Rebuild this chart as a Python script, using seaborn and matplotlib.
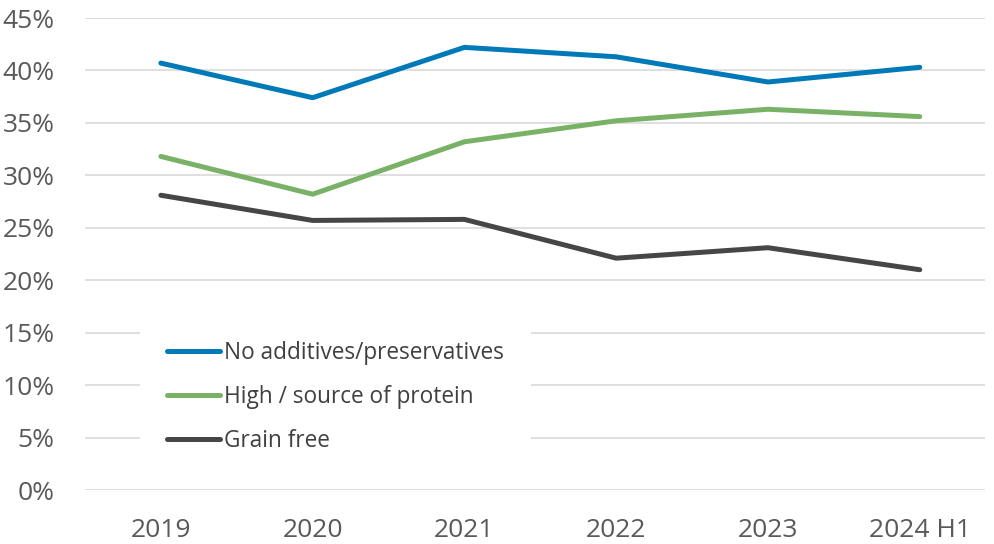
import matplotlib
matplotlib.use("Agg")
import matplotlib.pyplot as plt
import seaborn as sns
import pandas as pd
from matplotlib.ticker import PercentFormatter

years = ["2019", "2020", "2021", "2022", "2023", "2024 H1"]
no_additives = [40.7, 37.4, 42.2, 41.3, 38.9, 40.3]
protein = [31.8, 28.2, 33.2, 35.2, 36.3, 35.6]
grain_free = [28.1, 25.7, 25.8, 22.1, 23.1, 21.0]
series_names = ["No additives/preservatives", "High / source of protein", "Grain free"]
colors = ["#0079B8", "#79B266", "#464646"]

rows = []
for name, vals in zip(series_names, [no_additives, protein, grain_free]):
    for i, (y, v) in enumerate(zip(years, vals)):
        rows.append({"idx": i, "year": y, "value": v, "series": name})
df = pd.DataFrame(rows)

sns.set_theme(style="white")
plt.rcParams["font.family"] = ["Open Sans", "DejaVu Sans"]

fig = plt.figure(figsize=(9.95, 5.44), dpi=100)
ax = fig.add_axes([85/995, 54/544, 900/995, 472/544])

sns.lineplot(data=df, x="idx", y="value", hue="series", palette=colors,
             hue_order=series_names, linewidth=3.6, ax=ax,
             solid_capstyle="round", legend=True)

ax.set_xlim(-0.5, 5.43)
ax.set_ylim(0, 45)
ax.set_yticks(range(0, 46, 5))
ax.yaxis.set_major_formatter(PercentFormatter(decimals=0))
ax.set_xticks(range(len(years)))
ax.set_xticklabels(years)
ax.set_xlabel("")
ax.set_ylabel("")
ax.grid(axis="y", color="#D9D9D9", linewidth=1.2)
ax.set_axisbelow(True)
for s in ax.spines.values():
    s.set_visible(False)
ax.tick_params(axis="both", length=0, labelsize=19, colors="#595959")
ax.tick_params(axis="x", pad=20)
ax.tick_params(axis="y", pad=22)

leg = ax.legend(loc="upper left", bbox_to_anchor=(55/900, (490-314)/472),
                frameon=True, facecolor="white", edgecolor="none", framealpha=1,
                fancybox=False, fontsize=16.3, handlelength=2.35, handletextpad=0.18,
                labelspacing=0.88, borderpad=1.2, borderaxespad=0)
for t in leg.get_texts():
    t.set_color("#404040")
for h in leg.get_lines():
    h.set_linewidth(3.6)
    h.set_solid_capstyle("round")

fig.savefig("out.png", dpi=100)
